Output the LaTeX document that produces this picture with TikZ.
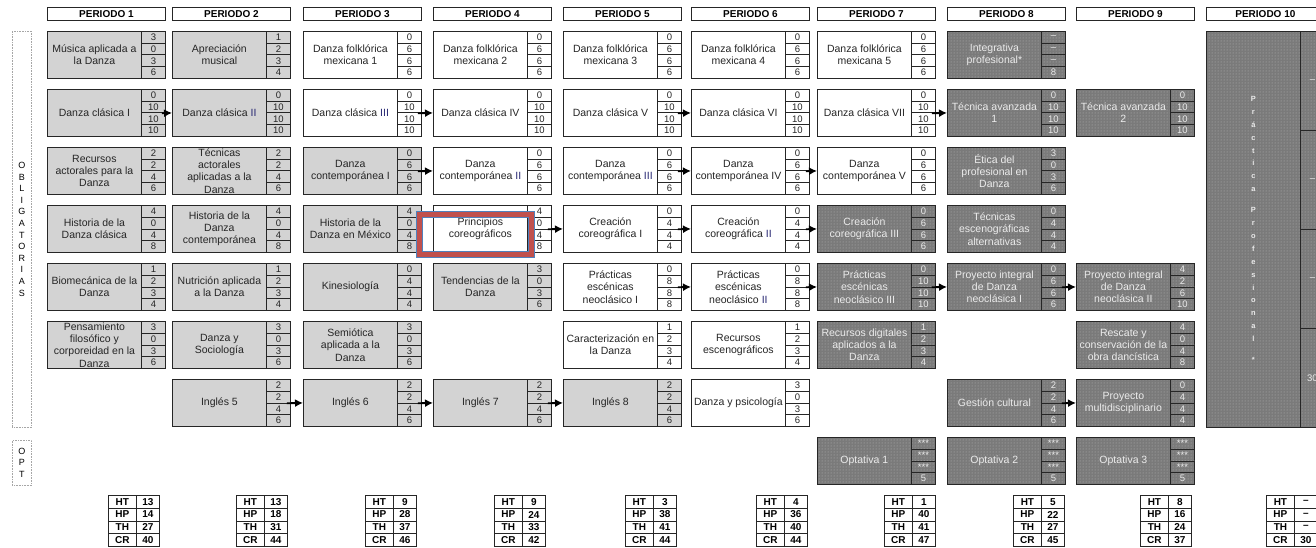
\documentclass[tikz,border=0pt]{standalone}
\usepackage{fontspec}
\setmainfont{Liberation Sans}
\usetikzlibrary{arrows.meta,patterns}

\definecolor{grisclaro}{RGB}{211,211,211}
\definecolor{grisoscuro}{RGB}{122,122,122}
\definecolor{rojomarco}{RGB}{192,80,77}
\definecolor{azulmarco}{RGB}{79,129,189}
\definecolor{azulrn}{RGB}{40,40,115}

\newcommand{\rn}[1]{\textcolor{azulrn}{#1}}
\def\colx{{47,172,303,433,563,691,817,947,1076,1206}}

% materia: periodo, fila, tipo, nombre, horas
\newcommand{\materia}[5]{%
  \pgfmathsetmacro\mx{\colx[#1-1]}%
  \pgfmathsetmacro\my{31+(#2-1)*58}%
  \node[planCaja,#3] (m#1-#2) at (\mx,\my) {#4};
  \foreach \n [count=\k] in {#5}{
    \node[planCelda,#3] (m#1-#2n\k) at (\mx+94,{\my+(\k-1)*11.75}) {\n};
  }%
}

\begin{document}
\begin{tikzpicture}[x=1pt,y=-1pt]
\tikzset{
    planCaja/.style={rectangle,draw=black!85,line width=0.8pt,minimum width=94pt,minimum height=47pt,inner xsep=1pt,inner ysep=0pt,align=center,anchor=north west,font=\fontsize{10.5}{12.3}\selectfont},
    planCelda/.style={rectangle,draw=black!85,line width=0.8pt,minimum width=24pt,minimum height=11.75pt,inner sep=0pt,anchor=north west,font=\fontsize{9.5}{10}\selectfont},
    planClaro/.style={fill=grisclaro,text=black!85},
    planBlanco/.style={fill=white,text=black!85},
    planOscuro/.style={fill=grisoscuro,postaction={pattern=dots,pattern color=black!28,draw=black!85},text=white!92!black},
    planCabeza/.style={rectangle,draw=black!85,line width=0.8pt,fill=white,minimum width=118pt,minimum height=13pt,inner sep=0pt,anchor=north west,font=\bfseries\fontsize{10}{10}\selectfont},
    planTotLab/.style={rectangle,draw=black!85,line width=0.8pt,minimum width=28pt,minimum height=12.75pt,inner sep=0pt,anchor=north west,font=\bfseries\fontsize{10}{10}\selectfont},
    planTotVal/.style={planTotLab,minimum width=23pt},
    planLateral/.style={rectangle,draw=black!35,densely dotted,line width=0.6pt,minimum width=19pt,inner sep=0pt,align=center,anchor=north west,font=\fontsize{9}{11.6}\selectfont},
    planFlecha/.style={-{Latex[length=8pt,width=8pt]},line width=1.9pt,black},
}
\clip (0,0) rectangle (1316,548);
\fill[white] (0,0) rectangle (1316,548);

% encabezados
\foreach \p in {1,...,10}{
  \pgfmathsetmacro\hx{\colx[\p-1]}
  \node[planCabeza] (h\p) at (\hx,7) {PERIODO \p};
}

% bloques laterales
\node[planLateral,minimum height=396pt] (obl) at (12,31) {O\\B\\L\\I\\G\\A\\T\\O\\R\\I\\A\\S};
\node[planLateral,minimum height=45pt] (opt) at (12,440) {O\\P\\T};

% periodo 1
\materia{1}{1}{planClaro}{Música aplicada a\\la Danza}{3,0,3,6}
\materia{1}{2}{planClaro}{Danza clásica I}{0,10,10,10}
\materia{1}{3}{planClaro}{Recursos\\actorales para la\\Danza}{2,2,4,6}
\materia{1}{4}{planClaro}{Historia de la\\Danza clásica}{4,0,4,8}
\materia{1}{5}{planClaro}{Biomecánica de la\\Danza}{1,2,3,4}
\materia{1}{6}{planClaro}{Pensamiento\\filosófico y\\corporeidad en la\\Danza}{3,0,3,6}
% periodo 2
\materia{2}{1}{planClaro}{Apreciación\\musical}{1,2,3,4}
\materia{2}{2}{planClaro}{Danza clásica \rn{II}}{0,10,10,10}
\materia{2}{3}{planClaro}{Técnicas\\actorales\\aplicadas a la\\Danza}{2,2,4,6}
\materia{2}{4}{planClaro}{Historia de la\\Danza\\contemporánea}{4,0,4,8}
\materia{2}{5}{planClaro}{Nutrición aplicada\\a la Danza}{1,2,3,4}
\materia{2}{6}{planClaro}{Danza y\\Sociología}{3,0,3,6}
\materia{2}{7}{planClaro}{Inglés 5}{2,2,4,6}
% periodo 3
\materia{3}{1}{planBlanco}{Danza folklórica\\mexicana 1}{0,6,6,6}
\materia{3}{2}{planBlanco}{Danza clásica \rn{III}}{0,10,10,10}
\materia{3}{3}{planClaro}{Danza\\contemporánea I}{0,6,6,6}
\materia{3}{4}{planClaro}{Historia de la\\Danza en México}{4,0,4,8}
\materia{3}{5}{planClaro}{Kinesiología}{0,4,4,4}
\materia{3}{6}{planClaro}{Semiótica\\aplicada a la\\Danza}{3,0,3,6}
\materia{3}{7}{planClaro}{Inglés 6}{2,2,4,6}
% periodo 4
\materia{4}{1}{planBlanco}{Danza folklórica\\mexicana 2}{0,6,6,6}
\materia{4}{2}{planBlanco}{Danza clásica IV}{0,10,10,10}
\materia{4}{3}{planBlanco}{Danza\\contemporánea \rn{II}}{0,6,6,6}
\materia{4}{4}{planBlanco}{Principios\\coreográficos}{4,0,4,8}
\materia{4}{5}{planClaro}{Tendencias de la\\Danza}{3,0,3,6}
\materia{4}{7}{planClaro}{Inglés 7}{2,2,4,6}
% periodo 5
\materia{5}{1}{planBlanco}{Danza folklórica\\mexicana 3}{0,6,6,6}
\materia{5}{2}{planBlanco}{Danza clásica V}{0,10,10,10}
\materia{5}{3}{planBlanco}{Danza\\contemporánea \rn{III}}{0,6,6,6}
\materia{5}{4}{planBlanco}{Creación\\coreográfica I}{0,4,4,4}
\materia{5}{5}{planBlanco}{Prácticas\\escénicas\\neoclásico I}{0,8,8,8}
\materia{5}{6}{planBlanco}{Caracterización en\\la Danza}{1,2,3,4}
\materia{5}{7}{planClaro}{Inglés 8}{2,2,4,6}
% periodo 6
\materia{6}{1}{planBlanco}{Danza folklórica\\mexicana 4}{0,6,6,6}
\materia{6}{2}{planBlanco}{Danza clásica VI}{0,10,10,10}
\materia{6}{3}{planBlanco}{Danza\\contemporánea IV}{0,6,6,6}
\materia{6}{4}{planBlanco}{Creación\\coreográfica \rn{II}}{0,4,4,4}
\materia{6}{5}{planBlanco}{Prácticas\\escénicas\\neoclásico \rn{II}}{0,8,8,8}
\materia{6}{6}{planBlanco}{Recursos\\escenográficos}{1,2,3,4}
\materia{6}{7}{planBlanco}{Danza y psicología}{3,0,3,6}
% periodo 7
\materia{7}{1}{planBlanco}{Danza folklórica\\mexicana 5}{0,6,6,6}
\materia{7}{2}{planBlanco}{Danza clásica VII}{0,10,10,10}
\materia{7}{3}{planBlanco}{Danza\\contemporánea V}{0,6,6,6}
\materia{7}{4}{planOscuro}{Creación\\coreográfica III}{0,6,6,6}
\materia{7}{5}{planOscuro}{Prácticas\\escénicas\\neoclásico III}{0,10,10,10}
\materia{7}{6}{planOscuro}{Recursos digitales\\aplicados a la\\Danza}{1,2,3,4}
\materia{7}{8}{planOscuro}{Optativa 1}{***,***,***,5}
% periodo 8
\materia{8}{1}{planOscuro}{Integrativa\\profesional*}{--,--,--,8}
\materia{8}{2}{planOscuro}{Técnica avanzada\\1}{0,10,10,10}
\materia{8}{3}{planOscuro}{Ética del\\profesional en\\Danza}{3,0,3,6}
\materia{8}{4}{planOscuro}{Técnicas\\escenográficas\\alternativas}{0,4,4,4}
\materia{8}{5}{planOscuro}{Proyecto integral\\de Danza\\neoclásica I}{0,6,6,6}
\materia{8}{7}{planOscuro}{Gestión cultural}{2,2,4,6}
\materia{8}{8}{planOscuro}{Optativa 2}{***,***,***,5}
% periodo 9
\materia{9}{2}{planOscuro}{Técnica avanzada\\2}{0,10,10,10}
\materia{9}{5}{planOscuro}{Proyecto integral\\de Danza\\neoclásica II}{4,2,6,10}
\materia{9}{6}{planOscuro}{Rescate y\\conservación de la\\obra dancística}{4,0,4,8}
\materia{9}{7}{planOscuro}{Proyecto\\multidisciplinario}{0,4,4,4}
\materia{9}{8}{planOscuro}{Optativa 3}{***,***,***,5}
% periodo 10
\node[planCaja,planOscuro,minimum height=396pt,font=\bfseries\fontsize{7.5}{12.9}\selectfont] (m10) at (1206,31)
  {P\\r\\á\\c\\t\\i\\c\\a\\[8pt]P\\r\\o\\f\\e\\s\\i\\o\\n\\a\\l\\[8pt]*};
\foreach \n [count=\k] in {--,--,--,30}
  \node[planCelda,planOscuro,minimum height=99pt] (m10n\k) at (1300,{31+(\k-1)*99}) {\n};

% seriacion
\foreach \ori/\des in {m1-2/m2-2,m3-2/m4-2,m5-2/m6-2,m7-2/m8-2,
    m3-3/m4-3,m5-3/m6-3,m6-3/m7-3,
    m4-4/m5-4,m5-4/m6-4,m6-4/m7-4,
    m5-5/m6-5,m6-5/m7-5,m7-5/m8-5,m8-5/m9-5,
    m2-7/m3-7,m3-7/m4-7,m4-7/m5-7,m8-7/m9-7}
  \draw[planFlecha] ([xshift=-4pt]\ori n2.south east) -- (\des.west);

% totales
\foreach \tx/\vht/\vhp/\vth/\vcr in {108/13/14/27/40,236/13/18/31/44,365/9/28/37/46,494/9/24/33/42,625/3/38/41/44,
    756/4/36/40/44,884/1/40/41/47,1013/5/22/27/45,1140/8/16/24/37,1266/--/--/--/30}{
  \foreach \lab/\val [count=\k] in {HT/\vht,HP/\vhp,TH/\vth,CR/\vcr}{
    \node[planTotLab] (t\tx-\k) at (\tx,{495+(\k-1)*12.75}) {\lab};
    \node[planTotVal] (v\tx-\k) at (\tx+28,{495+(\k-1)*12.75}) {\val};
  }
}

% marca
\draw[line width=7pt,azulmarco] (419.5,214.2) rectangle (531.5,254.8);
\draw[line width=5pt,rojomarco] (419.5,214.2) rectangle (531.5,254.8);
\end{tikzpicture}
\end{document}
